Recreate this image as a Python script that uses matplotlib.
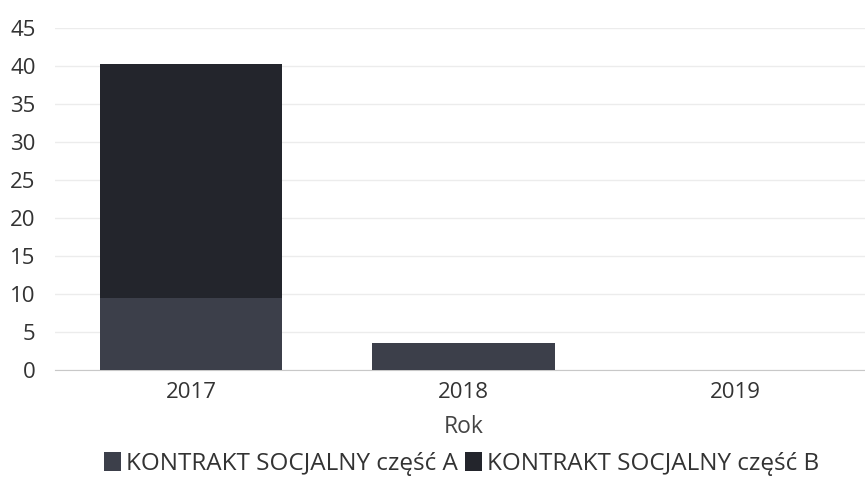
import matplotlib
matplotlib.use("Agg")
import matplotlib.pyplot as plt
import numpy as np

years = ["2017", "2018", "2019"]
part_a = [9.5, 3.5, 0]
part_b = [30.8, 0, 0]
series_names = ["KONTRAKT SOCJALNY część A", "KONTRAKT SOCJALNY część B"]
y_ticks = [0, 5, 10, 15, 20, 25, 30, 35, 40, 45]

plt.rcParams['font.family'] = ['Open Sans', 'DejaVu Sans']

fig = plt.figure(figsize=(8.65, 4.79), dpi=100)
ax = fig.add_axes([55/865, 1 - 370/479, (872-55)/865, (370-28)/479])

x = np.arange(len(years))
w = 0.67
ax.bar(x, part_a, w, color="#3c3f4a", label=series_names[0], zorder=3)
ax.bar(x, part_b, w, bottom=part_a, color="#23252c", label=series_names[1], zorder=3)

ax.set_xlim(-0.5, len(years) - 0.5)
ax.set_ylim(0, 45)
ax.set_yticks(y_ticks)
ax.set_xticks(x)
ax.set_xticklabels(years)
ax.tick_params(axis='both', length=0, labelsize=16, colors="#333333")
ax.tick_params(axis='x', pad=9)
ax.tick_params(axis='y', pad=14)
ax.grid(axis='y', color="#ececec", linewidth=1, zorder=0)
for s in ["top", "right", "left"]:
    ax.spines[s].set_visible(False)
ax.spines["bottom"].set_color("#c8c8c8")
ax.set_xlabel("Rok", fontsize=16.5, color="#444444", labelpad=8)

fig.legend(loc="center", bbox_to_anchor=(462/865, 1 - 464/479), ncol=2,
           frameon=False, fontsize=17.5, handlelength=0.7, handleheight=0.8,
           handletextpad=0.2, columnspacing=0.3, labelcolor="#333333")

fig.savefig("out.png", dpi=100, facecolor="white")
